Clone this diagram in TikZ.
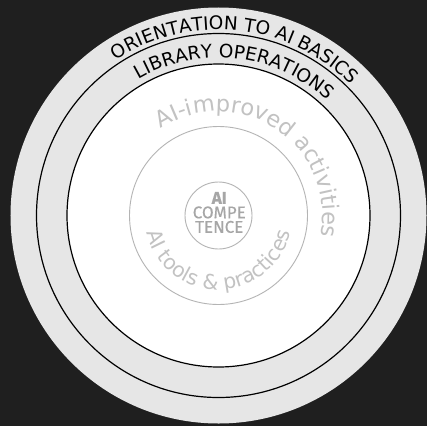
\documentclass[tikz,border=0pt]{standalone}
\usepackage{fontspec}
\setmainfont{Fira Sans}
\newfontfamily\ringfont{DejaVu Sans}
\newfontfamily\corefont[FakeBold=0.3]{Fira Sans}
\usetikzlibrary{decorations.text}
\definecolor{bg}{HTML}{1F1F1F}
\definecolor{ring}{HTML}{E6E6E6}
\definecolor{soft}{HTML}{B4B4B4}
\definecolor{softtext}{HTML}{C2C2C2}
\definecolor{coretext}{HTML}{A6A6A6}
\begin{document}
\begin{tikzpicture}[x=1pt,y=1pt,
  ringline/.style={draw=black,line width=1.2pt},
  softline/.style={draw=soft,line width=0.9pt}]
\useasboundingbox (-218.5,-210.5) rectangle (208.5,215.5);
\clip (-218.5,-210.5) rectangle (208.5,215.5);
\fill[bg] (-218.5,-210.5) rectangle (208.5,215.5);
\fill[ring] (0,0) circle[radius=208];
\filldraw[fill=ring,ringline] (0,0) circle[radius=182];
\filldraw[fill=white,ringline] (0,0) circle[radius=151.5];
\draw[softline] (0,0) circle[radius=89];
\draw[softline] (0,0) circle[radius=33.5];
\path[decorate,decoration={text along path,text align=center,text color=black,
  text={|\ringfont\fontsize{18.5}{18.5}\selectfont|ORIENTATION TO AI BASICS}}]
  (164:186) arc[start angle=164,end angle=4,radius=186];
\path[decorate,decoration={text along path,text align=center,text color=black,
  text={|\ringfont\fontsize{18.5}{18.5}\selectfont|LIBRARY OPERATIONS}}]
  (163.5:158) arc[start angle=163.5,end angle=3.5,radius=158];
\path[decorate,decoration={text along path,text align=center,text color=softtext,
  text={|\ringfont\fontsize{22.5}{22.5}\selectfont|AI-improved activities}}]
  (148:104) arc[start angle=148,end angle=-36,radius=104];
\path[decorate,decoration={text along path,text align=center,text color=softtext,
  text={|\ringfont\fontsize{20.5}{20.5}\selectfont|AI tools {\&} practices}}]
  (170:74) arc[start angle=170,end angle=370,radius=74];
\node[text=coretext,align=center,inner sep=0pt,font=\corefont\fontsize{17}{14.5}\selectfont] (core) at (0.8,3)
  {\textbf{AI}\\COMPE\\TENCE};
\end{tikzpicture}
\end{document}
